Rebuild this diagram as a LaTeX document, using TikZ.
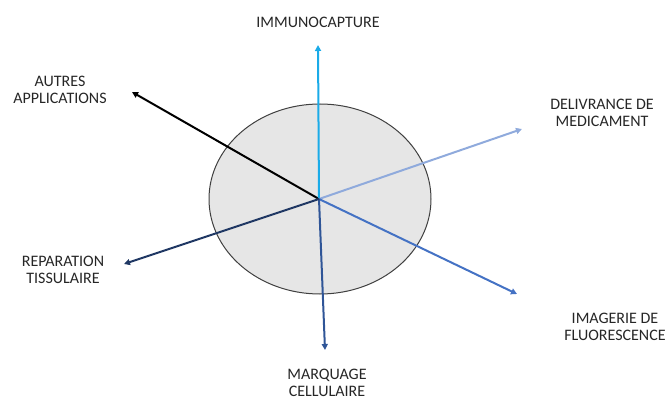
\documentclass[tikz,border=0pt]{standalone}
\usepackage{fontspec}
\setmainfont{Carlito}
\usetikzlibrary{arrows.meta,positioning}

\definecolor{capblue}{HTML}{1AABE8}
\definecolor{palblue}{HTML}{8FAADC}
\definecolor{midblue}{HTML}{4472C4}
\definecolor{deepblue}{HTML}{2F5597}
\definecolor{navyblue}{HTML}{203864}
\definecolor{discgray}{HTML}{E6E6E6}

\tikzset{
    label/.style={align=center, font=\fontsize{16}{17}\selectfont, text=black!85, inner sep=0pt},
    ray/.style={line width=2pt, -{Triangle[length=6pt,width=6pt]}}
}

\begin{document}
\begin{tikzpicture}[x=1pt,y=-1pt]
    \useasboundingbox (0,0) rectangle (670,401);

    % Disc
    \draw[fill=discgray, draw=black!75, line width=1pt] (320,199) ellipse (111 and 95);
    \coordinate (centre) at (319,199);

    % Arrow ends
    \coordinate (tipup) at (318,45);
    \coordinate (tipul) at (132,92);
    \coordinate (tipur) at (522,129);
    \coordinate (tipll) at (124,264);
    \coordinate (tiplr) at (517,294);
    \coordinate (tipdn) at (325,350);

    % Rays
    \draw[ray, black] (centre) -- (tipul);
    \draw[ray, capblue] (centre) -- (tipup);
    \draw[ray, palblue] (centre) -- (tipur);
    \draw[ray, midblue] (centre) -- (tiplr);
    \draw[ray, deepblue] (centre) -- (tipdn);
    \draw[ray, navyblue] (centre) -- (tipll);

    % Labels
    \node[label] (immuno) at (318,22) {IMMUNOCAPTURE};
    \node[label] (autres) at (60,90) {AUTRES\\APPLICATIONS};
    \node[label] (delivr) at (602,113) {DELIVRANCE DE\\MEDICAMENT};
    \node[label] (repar) at (63,270) {REPARATION\\TISSULAIRE};
    \node[label] (imag) at (615,327) {IMAGERIE DE\\FLUORESCENCE};
    \node[label] (marq) at (327,383) {MARQUAGE\\CELLULAIRE};
\end{tikzpicture}
\end{document}
